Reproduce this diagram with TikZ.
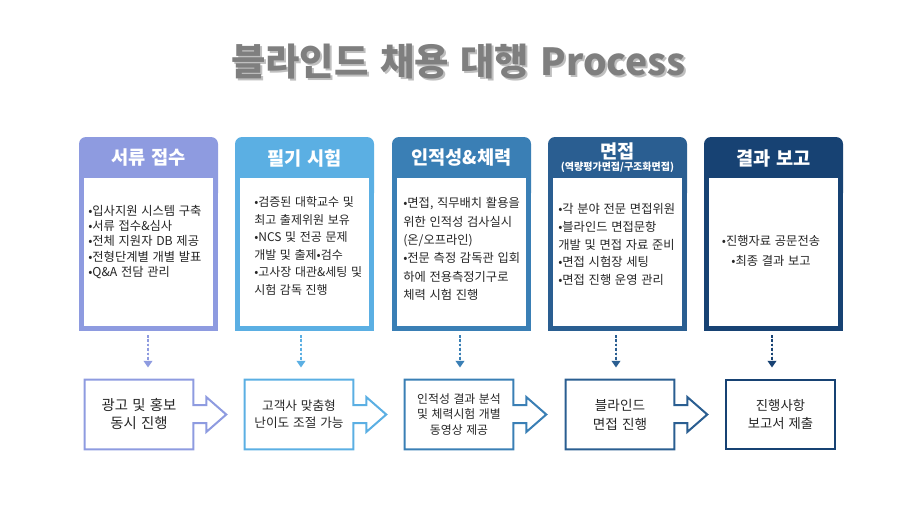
\documentclass[tikz,border=0pt]{standalone}
\usepackage{fontspec}
\setmainfont{Noto Sans CJK KR}[WordSpace=1.35]
\usetikzlibrary{arrows.meta,calc}

\definecolor{cardA}{HTML}{8E9BE0}
\definecolor{cardB}{HTML}{5BAFE3}
\definecolor{cardC}{HTML}{3A7FB5}
\definecolor{cardD}{HTML}{2A5E91}
\definecolor{cardE}{HTML}{174273}
\definecolor{titlegray}{HTML}{7F7F7F}
\definecolor{textgray}{HTML}{262626}

\tikzset{
  cardtitle/.style={text=white, inner sep=0pt, font=\bfseries\fontsize{14}{16}\selectfont},
  cardtext/.style={text=textgray, inner sep=0pt, align=left, anchor=west},
  stepnode/.style={minimum width=81pt, minimum height=51.75pt, inner sep=0pt, align=center, text=textgray},
  stepline/.style={line width=1.5pt, line join=miter},
  dotarrow/.style={line width=1.9pt, dash pattern=on 1.9pt off 1.4pt, -{Triangle[width=6.5pt,length=5pt]}},
}

\begin{document}
\begin{tikzpicture}[x=0.75pt,y=0.75pt,yscale=-1,xscale=1]
\useasboundingbox (0,0) rectangle (920,517);

% Title
\node[text=black, opacity=0.25] at (460.5,63.5) {\bfseries\fontsize{28}{32}\selectfont 블라인드 채용 대행 Process};
\node (title) at (458.5,61.5) [text=titlegray] {\bfseries\fontsize{28}{32}\selectfont 블라인드 채용 대행 Process};

%Shape: Cards
\foreach \l/\col in {79/cardA, 235/cardB, 392/cardC, 548/cardD, 704/cardE}{
  \fill[\col, rounded corners=5.25pt] (\l,137) rectangle (\l+139,200);
  \fill[\col] (\l,165) rectangle (\l+139,331);
  \fill[white] (\l+5,178) rectangle (\l+134,326);
}

% Card titles
\node[cardtitle] (h1) at (148.5,158) {서류 접수};
\node[cardtitle] (h2) at (304.5,158) {필기 시험};
\node[cardtitle] (h3) at (461.5,158) {인적성\&체력};
\node[cardtitle] (h4) at (617.5,151) {면접};
\node[cardtitle, font=\bfseries\fontsize{7.5}{9}\selectfont] (h4sub) at (617.5,167.5) {(역량평가면접/구조화면접)};
\node[cardtitle] (h5) at (773.5,158) {결과 보고};

% Card texts
\node[cardtext, font=\fontsize{9.2}{11.3}\selectfont] (t1) at (88,242) {•입사지원 시스템 구축\\•서류 접수\&심사\\•전체 지원자 DB 제공\\•전형단계별 개별 발표\\•Q\&A 전담 관리};
\node[cardtext, font=\fontsize{9}{13.2}\selectfont] (t2) at (254,246) {•검증된 대학교수 및\\최고 출제위원 보유\\•NCS 및 전공 문제\\개발 및 출제•검수\\•고사장 대관\&세팅 및\\시험 감독 진행};
\node[cardtext, font=\fontsize{9.2}{13.8}\selectfont] (t3) at (403,249) {•면접, 직무배치 활용을\\위한 인적성 검사실시\\(온/오프라인)\\•전문 측정 감독관 입회\\하에 전용측정기구로\\체력 시험 진행};
\node[cardtext, font=\fontsize{9.2}{13.3}\selectfont] (t4) at (558,244.5) {•각 분야 전문 면접위원\\•블라인드 면접문항\\개발 및 면접 자료 준비\\•면접 시험장 세팅\\•면접 진행 운영 관리};
\node[cardtext, anchor=center, align=center, font=\fontsize{9.2}{15}\selectfont] (t5) at (771,251) {•진행자료 공문전송\\•최종 결과 보고};

% Step boxes
\node[stepnode, font=\fontsize{10.8}{13.5}\selectfont] (b1) at (139,414.5) {광고 및 홍보\\동시 진행};
\node[stepnode, font=\fontsize{9.5}{12.8}\selectfont] (b2) at (299,414.5) {고객사 맞춤형\\난이도 조절 가능};
\node[stepnode, font=\fontsize{8.9}{11.3}\selectfont] (b3) at (459,414.5) {인적성 결과 분석\\및 체력시험 개별\\동영상 제공};
\node[stepnode, font=\fontsize{10.2}{14.2}\selectfont] (b4) at (620,414.5) {블라인드\\면접 진행};
\node[stepnode, font=\fontsize{10}{13.5}\selectfont] (b5) at (780.5,414.5) {진행사항\\보고서 제출};

%Shape: Box arrows
\foreach \n/\col in {1/cardA, 2/cardB, 3/cardC, 4/cardD}{
  \draw[stepline, draw=\col] (b\n.north west) -- (b\n.north east) -- ($(b\n.east)+(0,-9.5)$) -- ($(b\n.east)+(13,-9.5)$) -- ($(b\n.east)+(13,-17.5)$) -- ($(b\n.east)+(33,0)$) -- ($(b\n.east)+(13,17.5)$) -- ($(b\n.east)+(13,8.5)$) -- ($(b\n.east)+(0,8.5)$) -- (b\n.south east) -- (b\n.south west) -- cycle;
}
\draw[stepline, draw=cardE] (b5.north west) rectangle (b5.south east);

% Dotted arrows
\foreach \n/\x/\col in {1/148/cardA, 2/301/cardB, 3/460/cardC, 4/616/cardD, 5/772/cardE}{
  \coordinate (a\n) at (\x,335);
  \coordinate (e\n) at (\x,367.5);
  \draw[dotarrow, draw=\col, fill=\col] (a\n) -- (e\n);
}

\end{tikzpicture}
\end{document}
